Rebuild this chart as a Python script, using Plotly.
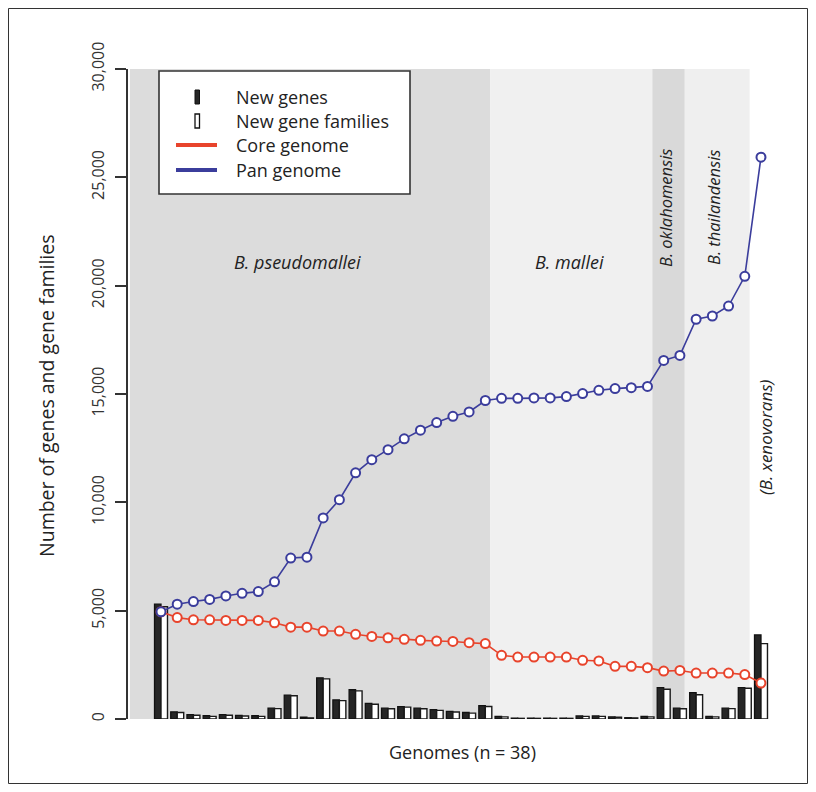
import plotly.graph_objects as go

# ---------------- data ----------------
genomes = list(range(1, 39))
pan_genome = [4950, 5300, 5420, 5520, 5680, 5800, 5880, 6330, 7430, 7470,
              9280, 10120, 11360, 11970, 12430, 12930, 13330, 13680, 13970, 14170,
              14700, 14800, 14800, 14820, 14820, 14880, 15020, 15170, 15250, 15290,
              15350, 16550, 16780, 18450, 18600, 19060, 20430, 25930]
core_genome = [4950, 4680, 4580, 4580, 4550, 4550, 4550, 4440, 4240, 4240,
               4060, 4060, 3910, 3810, 3750, 3680, 3630, 3600, 3580, 3520,
               3480, 2940, 2860, 2860, 2860, 2860, 2710, 2680, 2430, 2430,
               2370, 2210, 2240, 2120, 2120, 2120, 2050, 1660]
new_genes = [5300, 330, 200, 150, 200, 170, 150, 500, 1100, 80,
             1900, 880, 1350, 720, 500, 570, 500, 430, 350, 300,
             620, 120, 40, 40, 40, 40, 140, 140, 100, 60,
             120, 1450, 500, 1220, 120, 500, 1450, 3880]
new_families = [5180, 300, 170, 120, 170, 140, 120, 480, 1070, 50,
                1850, 850, 1300, 680, 470, 550, 470, 400, 320, 270,
                580, 100, 30, 30, 30, 30, 120, 120, 80, 50,
                100, 1370, 470, 1120, 100, 480, 1420, 3480]
species = ["B. pseudomallei", "B. mallei", "B. oklahomensis", "B. thailandensis", "(B. xenovorans)"]
species_counts = [21, 10, 2, 4, 1]
y_ticks = [0, 5000, 10000, 15000, 20000, 25000, 30000]

# ---------------- layout helpers ----------------
W, H = 816, 792
OFF = 8                          # page body margin
FW, FH = W - 2 * OFF, H - 2 * OFF  # figure size that fits without scrolling
L, R, T, B = 128, 790, 69, 719   # plot area in page pixels
def px(x):
    return (x - L) / (R - L)
def py(y):
    return (B - y) / (B - T)

FONT = "Open Sans"
TXT = "#222222"
RED = "#e8442c"
BLUE = "#3b3d9c"

fig = go.Figure()
fig.add_trace(go.Bar(x=genomes, y=new_genes, name="New genes",
                     marker=dict(color="#262626", line=dict(color="#111111", width=1.3))))
fig.add_trace(go.Bar(x=genomes, y=new_families, name="New gene families",
                     marker=dict(color="white", line=dict(color="#1a1a1a", width=1.4))))
fig.add_trace(go.Scatter(x=genomes, y=core_genome, name="Core genome", mode="lines+markers",
                         line=dict(color=RED, width=1.6),
                         marker=dict(symbol="circle", size=9, color="white",
                                     line=dict(color=RED, width=2)),
                         cliponaxis=False))
fig.add_trace(go.Scatter(x=genomes, y=pan_genome, name="Pan genome", mode="lines+markers",
                         line=dict(color=BLUE, width=1.6),
                         marker=dict(symbol="circle", size=9, color="white",
                                     line=dict(color=BLUE, width=2)),
                         cliponaxis=False))

shapes = []
# species shading
shade_cols = ["#dcdcdc", "#f0f0f0", "#d9d9d9", "#efefef", None]
start = 1 + (130 - 161) / 16.216
cum = 0
for cnt, col in zip(species_counts, shade_cols):
    cum += cnt
    end = cum + 0.3
    if col:
        shapes.append(dict(type="rect", xref="x", yref="y", x0=start, x1=end,
                           y0=0, y1=30000, fillcolor=col, line=dict(width=0), layer="below"))
    start = end

# legend box
shapes.append(dict(type="rect", xref="paper", yref="paper", x0=px(159), x1=px(410),
                   y0=py(194), y1=py(71), fillcolor="white",
                   line=dict(color="#333333", width=1.6), layer="above"))
# legend symbols
shapes.append(dict(type="rect", xref="paper", yref="paper", x0=px(195), x1=px(199.5),
                   y0=py(104), y1=py(90), fillcolor="#262626",
                   line=dict(color="#111111", width=1), layer="above"))
shapes.append(dict(type="rect", xref="paper", yref="paper", x0=px(195), x1=px(199.5),
                   y0=py(128), y1=py(114), fillcolor="white",
                   line=dict(color="#111111", width=1.3), layer="above"))
shapes.append(dict(type="line", xref="paper", yref="paper", x0=px(176), x1=px(217),
                   y0=py(145), y1=py(145), line=dict(color=RED, width=4), layer="above"))
shapes.append(dict(type="line", xref="paper", yref="paper", x0=px(176), x1=px(217),
                   y0=py(170), y1=py(170), line=dict(color=BLUE, width=4), layer="above"))
# outer frame (just inside the figure)
shapes.append(dict(type="rect", xref="paper", yref="paper", x0=px(OFF + 0.5), x1=px(W - OFF - 0.5),
                   y0=py(H - OFF - 0.5), y1=py(OFF + 0.5), line=dict(color="#333333", width=1),
                   fillcolor="rgba(0,0,0,0)", layer="above"))

annotations = []
for label, yy in zip(["New genes", "New gene families", "Core genome", "Pan genome"],
                     [97, 121, 145, 170]):
    annotations.append(dict(xref="paper", yref="paper", x=px(234), y=py(yy), text=label,
                            showarrow=False, xanchor="left", yanchor="middle",
                            font=dict(family=FONT, size=18, color=TXT)))

# species labels
annotations.append(dict(xref="paper", yref="paper", x=px(297), y=py(262), text="<i>" + species[0] + "</i>",
                        showarrow=False, xanchor="center", yanchor="middle",
                        font=dict(family=FONT, size=18, color=TXT)))
annotations.append(dict(xref="paper", yref="paper", x=px(569), y=py(262), text="<i>" + species[1] + "</i>",
                        showarrow=False, xanchor="center", yanchor="middle",
                        font=dict(family=FONT, size=18, color=TXT)))
annotations.append(dict(xref="paper", yref="paper", x=px(666), y=py(208), text="<i>" + species[2] + "</i>",
                        showarrow=False, textangle=-90, xanchor="center", yanchor="middle",
                        font=dict(family=FONT, size=16.5, color=TXT)))
annotations.append(dict(xref="paper", yref="paper", x=px(714), y=py(208), text="<i>" + species[3] + "</i>",
                        showarrow=False, textangle=-90, xanchor="center", yanchor="middle",
                        font=dict(family=FONT, size=16.5, color=TXT)))
annotations.append(dict(xref="paper", yref="paper", x=px(765), y=py(437), text="<i>" + species[4] + "</i>",
                        showarrow=False, textangle=-90, xanchor="center", yanchor="middle",
                        font=dict(family=FONT, size=17, color=TXT)))
# axis titles
annotations.append(dict(xref="paper", yref="paper", x=px(46), y=py(396),
                        text="Number of genes and gene families", textangle=-90,
                        showarrow=False, xanchor="center", yanchor="middle",
                        font=dict(family=FONT, size=19.5, color=TXT)))
annotations.append(dict(xref="paper", yref="paper", x=px(462), y=py(752),
                        text="Genomes (n = 38)",
                        showarrow=False, xanchor="center", yanchor="middle",
                        font=dict(family=FONT, size=18, color=TXT)))

x_left = 1 + (L - 161) / 16.216
x_right = 1 + (R - 161) / 16.216

fig.update_layout(
    width=FW, height=FH,
    margin=dict(l=L - OFF, r=FW + OFF - R, t=T - OFF, b=FH + OFF - B, pad=0),
    paper_bgcolor="white", plot_bgcolor="white",
    showlegend=False,
    barmode="group", bargap=0.2, bargroupgap=0,
    shapes=shapes, annotations=annotations,
    font=dict(family=FONT, size=16, color=TXT),
    xaxis=dict(range=[x_left, x_right], showticklabels=False, showline=False,
               showgrid=False, zeroline=False, ticks=""),
    yaxis=dict(range=[0, 30000], tickvals=y_ticks, tickformat=",",
               showline=True, linecolor="#333333", linewidth=1.5,
               ticks="outside", ticklen=11, tickwidth=1.5, tickcolor="#333333",
               tickangle=-90, ticklabelstandoff=5,
               tickfont=dict(family=FONT, size=16, color="#333333"),
               showgrid=False, zeroline=False),
)

fig.write_html("out.html")
